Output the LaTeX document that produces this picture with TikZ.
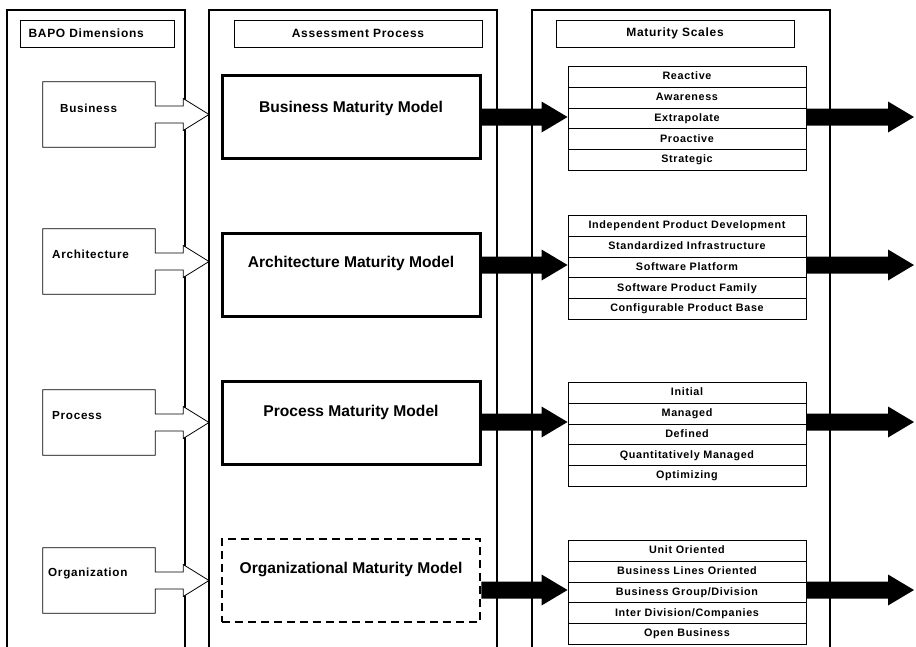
\documentclass[tikz,border=0pt]{standalone}
\usepackage{fontspec}
\setmainfont{Liberation Sans}
\newfontfamily\spacedfont[LetterSpace=6]{Liberation Sans}
\usetikzlibrary{calc}
\newcommand\blackarrow[2]{%
  \fill let \p1=#1, \p2=#2 in
    (\x1,{\y1+8.5pt}) -- ({\x2-26pt},{\y1+8.5pt}) -- ({\x2-26pt},{\y1+15.5pt})
    -- (\x2,\y1) -- ({\x2-26pt},{\y1-15.5pt}) -- ({\x2-26pt},{\y1-8.5pt})
    -- (\x1,{\y1-8.5pt}) -- cycle;}
\newcommand\callout[2]{% #1 dim node name, #2 tip coordinate
  \draw[calloutline] (#1.north west) -- (#1.north east) -- ([yshift=8.5pt]#1.east)
    -- ([xshift=28pt,yshift=8.5pt]#1.east) -- ([xshift=28pt,yshift=16pt]#1.east)
    -- (#2) -- ([xshift=28pt,yshift=-16pt]#1.east) -- ([xshift=28pt,yshift=-8.5pt]#1.east)
    -- ([yshift=-8.5pt]#1.east) -- (#1.south east) -- (#1.south west) -- cycle;}
\begin{document}
\begin{tikzpicture}[x=1pt,y=-1pt,
  column/.style={line width=2.6pt},
  hdr/.style={draw, line width=0.9pt, minimum height=27pt, inner sep=0pt,
    font=\spacedfont\bfseries\fontsize{12}{14}\selectfont},
  dimbox/.style={minimum width=112pt, minimum height=65pt, inner sep=0pt},
  dimtext/.style={anchor=west, inner sep=0pt, font=\spacedfont\bfseries\fontsize{11.7}{13}\selectfont},
  calloutline/.style={draw, fill=white, line width=0.8pt, line join=miter},
  model/.style={draw, line width=3pt, minimum width=258pt, minimum height=83pt, inner sep=0pt},
  modeldash/.style={model, line width=2.5pt, dash pattern=on 8pt off 5pt},
  modeltext/.style={inner sep=0pt, font=\bfseries\fontsize{15.6}{17}\selectfont},
  scalerow/.style={draw, line width=0.9pt, minimum width=238pt, minimum height=20.8pt,
    inner sep=0pt, text height=8pt, text depth=2.4pt, anchor=north,
    font=\spacedfont\bfseries\fontsize{10.8}{12}\selectfont},
]
\useasboundingbox (0,0) rectangle (916,646);
\clip (0,0) rectangle (916,646);
\fill[white] (0,0) rectangle (916,646);

% columns
\draw[column] (7,660) -- (7,10) -- (185,10) -- (185,660);
\draw[column] (209,660) -- (209,10) -- (497,10) -- (497,660);
\draw[column] (532,660) -- (532,10) -- (830,10) -- (830,660);
\coordinate (c2l) at (209,0);
\coordinate (tipx) at (914,0);

% headers
\node[hdr, minimum width=154pt, text width=137pt, align=left] (h1) at (97,33.5) {BAPO Dimensions};
\node[hdr, minimum width=248pt] (h2) at (358,33.5) {Assessment Process};
\node[hdr, minimum width=238pt] (h3) at (675,33.5) {Maturity Scales};

% dimension boxes with callout arrows
\node[dimbox] (d1) at (99,114.5) {};
\node[dimbox] (d2) at (99,261.5) {};
\node[dimbox] (d3) at (99,422.5) {};
\node[dimbox] (d4) at (99,580.5) {};
\callout{d1}{d1.east -| c2l}
\callout{d2}{d2.east -| c2l}
\callout{d3}{d3.east -| c2l}
\callout{d4}{d4.east -| c2l}
\node[dimtext] (l1) at (60,108) {Business};
\node[dimtext] (l2) at (52,254) {Architecture};
\node[dimtext] (l3) at (52,416) {Process};
\node[dimtext] (l4) at (48,573) {Organization};

% models
\node[model] (m1) at (351,116.5) {};
\node[model] (m2) at (351,274.5) {};
\node[model] (m3) at (351,423) {};
\node[modeldash] (m4) at (351,580.5) {};
\node[modeltext] (t1) at (351,108) {Business Maturity Model};
\node[modeltext] (t2) at (351,263) {Architecture Maturity Model};
\node[modeltext] (t3) at (351,412) {Process Maturity Model};
\node[modeltext] (t4) at (351,569) {Organizational Maturity Model};

% scales
\foreach \t [count=\i] in {Reactive,Awareness,Extrapolate,Proactive,Strategic}
  \node[scalerow] (sa\i) at (687,{66+20.8*(\i-1)}) {\t};
\foreach \t [count=\i] in {Independent Product Development,Standardized Infrastructure,Software Platform,Software Product Family,Configurable Product Base}
  \node[scalerow] (sb\i) at (687,{215+20.8*(\i-1)}) {\t};
\foreach \t [count=\i] in {Initial,Managed,Defined,Quantitatively Managed,Optimizing}
  \node[scalerow] (sc\i) at (687,{382+20.8*(\i-1)}) {\t};
\foreach \t [count=\i] in {Unit Oriented,Business Lines Oriented,Business Group/Division,Inter Division/Companies,Open Business}
  \node[scalerow] (sd\i) at (687,{540+20.8*(\i-1)}) {\t};

% black arrows
\coordinate (y1) at (0,117);
\coordinate (y2) at (0,265);
\coordinate (y3) at (0,422);
\coordinate (y4) at (0,590);
\blackarrow{(m1.east |- y1)}{(sa3.west |- y1)}
\blackarrow{(m2.east |- y2)}{(sb3.west |- y2)}
\blackarrow{(m3.east |- y3)}{(sc3.west |- y3)}
\blackarrow{(m4.east |- y4)}{(sd3.west |- y4)}
\blackarrow{(sa3.east |- y1)}{(tipx |- y1)}
\blackarrow{(sb3.east |- y2)}{(tipx |- y2)}
\blackarrow{(sc3.east |- y3)}{(tipx |- y3)}
\blackarrow{(sd3.east |- y4)}{(tipx |- y4)}
\end{tikzpicture}
\end{document}
